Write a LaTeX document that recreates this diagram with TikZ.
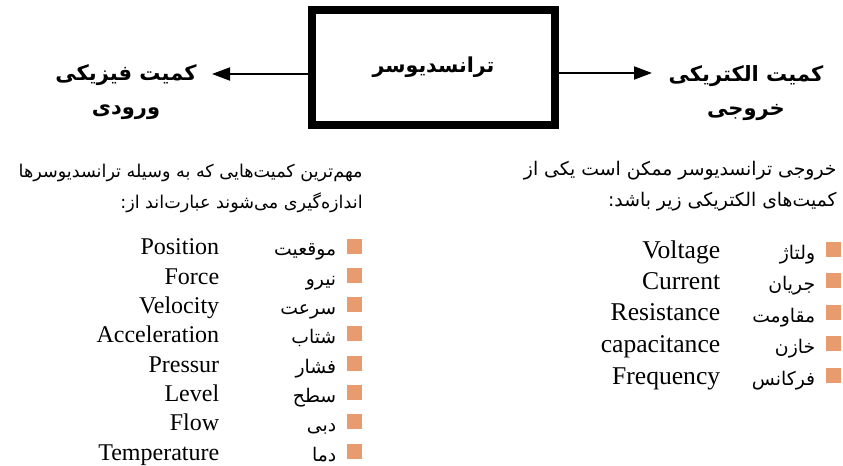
\documentclass[tikz,border=0pt]{standalone}
\usepackage{fontspec}
\setmainfont{Liberation Serif}
\newfontfamily\arabicfont[Script=Arabic]{DejaVu Sans}
\TeXXeTstate=1
\usetikzlibrary{arrows.meta,positioning}
\definecolor{bulletorange}{HTML}{E89B6E}

\tikzset{
	transbox/.style = {draw, line width=4pt, minimum width=121.5pt, minimum height=57.5pt, inner sep=0pt},
	head/.style = {font=\arabicfont\bfseries\fontsize{10.5}{17}\selectfont, align=center, inner sep=0pt},
	para/.style = {font=\arabicfont\fontsize{9.4}{15.5}\selectfont, align=right, inner sep=0pt},
	bullet/.style = {fill=bulletorange, minimum width=7.5pt, minimum height=7.5pt, inner sep=0pt},
	fa/.style = {font=\arabicfont\fontsize{9.4}{11}\selectfont, inner sep=0pt, text height=10pt, text depth=0pt},
	en/.style = {font=\fontsize{12}{14}\selectfont, inner sep=0pt, text height=9pt, text depth=0pt},
	conn/.style = {line width=1pt, -{Triangle[length=9pt,width=6.5pt]}}
}

\begin{document}
\begin{tikzpicture}[x=0.5pt, y=-0.5pt]
	\useasboundingbox (0,0) rectangle (843,466);
	% top: the transducer and its two quantities
	\node[transbox] (box) at (433.5,67.5) {\arabicfont\bfseries\fontsize{10.3}{13}\selectfont\beginR ترانسدیوسر\endR};
	\node[head] (in) at (126,92) {\beginR کمیت فیزیکی\endR\\ \beginR ورودی\endR};
	\node[head] (out) at (746,93) {\beginR کمیت الکتریکی\endR\\ \beginR خروجی\endR};
	\coordinate (inTip) at (212,74);
	\coordinate (outTip) at (652,73);
	\draw[conn] (box.west |- inTip) -- (inTip);
	\draw[conn] (box.east |- outTip) -- (outTip);

	% left column: measured quantities
	\node[para, anchor=east, font=\arabicfont\fontsize{8.8}{15.5}\selectfont] (intro) at (363,188) {\beginR مهم‌ترین کمیت‌هایی که به وسیله ترانسدیوسرها\endR\\ \beginR اندازه‌گیری می‌شوند عبارت‌اند از:\endR};
	\node[bullet] (b1) [node distance = 14.65pt] at (354.5,246) {};
	\node[bullet] (b2) [node distance = 14.65pt] [below of = b1] {};
	\node[bullet] (b3) [node distance = 14.65pt] [below of = b2] {};
	\node[bullet] (b4) [node distance = 14.65pt] [below of = b3] {};
	\node[bullet] (b5) [node distance = 14.65pt] [below of = b4] {};
	\node[bullet] (b6) [node distance = 14.65pt] [below of = b5] {};
	\node[bullet] (b7) [node distance = 14.65pt] [below of = b6] {};
	\node[bullet] (b8) [node distance = 14.65pt] [below of = b7] {};
	\node[fa] (p1) [left = 5pt of b1] {\beginR موقعیت\endR};
	\node[fa] (p2) [left = 5pt of b2] {\beginR نیرو\endR};
	\node[fa] (p3) [left = 5pt of b3] {\beginR سرعت\endR};
	\node[fa] (p4) [left = 5pt of b4] {\beginR شتاب\endR};
	\node[fa] (p5) [left = 5pt of b5] {\beginR فشار\endR};
	\node[fa] (p6) [left = 5pt of b6] {\beginR سطح\endR};
	\node[fa] (p7) [left = 5pt of b7] {\beginR دبی\endR};
	\node[fa] (p8) [left = 5pt of b8] {\beginR دما\endR};
	\node[en] (e1) [left = 63.5pt of b1] {Position};
	\node[en] (e2) [left = 63.5pt of b2] {Force};
	\node[en] (e3) [left = 63.5pt of b3] {Velocity};
	\node[en] (e4) [left = 63.5pt of b4] {Acceleration};
	\node[en] (e5) [left = 63.5pt of b5] {Pressur};
	\node[en] (e6) [left = 63.5pt of b6] {Level};
	\node[en] (e7) [left = 63.5pt of b7] {Flow};
	\node[en] (e8) [left = 63.5pt of b8] {Temperature};

	% right column: electrical outputs
	\node[para, anchor=east] (outro) at (837,186) {\beginR خروجی ترانسدیوسر ممکن است یکی از\endR\\ \beginR کمیت‌های الکتریکی زیر باشد:\endR};
	\node[bullet] (c1) [node distance = 15.75pt] at (833.5,249) {};
	\node[bullet] (c2) [node distance = 15.75pt] [below of = c1] {};
	\node[bullet] (c3) [node distance = 15.75pt] [below of = c2] {};
	\node[bullet] (c4) [node distance = 15.75pt] [below of = c3] {};
	\node[bullet] (c5) [node distance = 15.75pt] [below of = c4] {};
	\node[fa] (q1) [left = 5pt of c1] {\beginR ولتاژ\endR};
	\node[fa] (q2) [left = 5pt of c2] {\beginR جریان\endR};
	\node[fa] (q3) [left = 5pt of c3] {\beginR مقاومت\endR};
	\node[fa] (q4) [left = 5pt of c4] {\beginR خازن\endR};
	\node[fa] (q5) [left = 5pt of c5] {\beginR فرکانس\endR};
	\node[en, font=\fontsize{12.8}{14}\selectfont] (f1) [left = 52.5pt of c1] {Voltage};
	\node[en, font=\fontsize{12.8}{14}\selectfont] (f2) [left = 52.5pt of c2] {Current};
	\node[en, font=\fontsize{12.8}{14}\selectfont] (f3) [left = 52.5pt of c3] {Resistance};
	\node[en, font=\fontsize{12.8}{14}\selectfont] (f4) [left = 52.5pt of c4] {capacitance};
	\node[en, font=\fontsize{12.8}{14}\selectfont] (f5) [left = 52.5pt of c5] {Frequency};
\end{tikzpicture}
\end{document}
